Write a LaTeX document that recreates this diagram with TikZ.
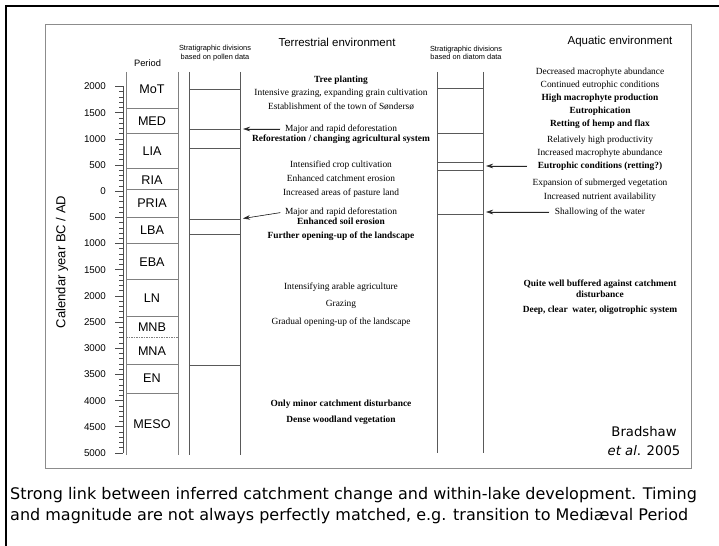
\documentclass[tikz,border=0pt]{standalone}
\usepackage{fontspec}
\setmainfont{Liberation Serif}
\newfontfamily\arialf{Liberation Sans}
\newfontfamily\capf{DejaVu Sans}
\usetikzlibrary{arrows.meta}
\begin{document}
\begin{tikzpicture}[x=1bp,y=-1bp,
  ter/.style={inner sep=0.5bp, font=\fontsize{9.4bp}{11bp}\selectfont, text height=6.5bp, text depth=2bp},
  terb/.style={ter, font=\fontsize{9.4bp}{11bp}\selectfont\bfseries},
  per/.style={inner sep=0pt, font=\arialf\fontsize{12.6bp}{14bp}\selectfont},
  ticklab/.style={inner sep=0pt, anchor=east, font=\arialf\fontsize{9.8bp}{11bp}\selectfont},
  smallhdr/.style={inner sep=0pt, align=center, font=\arialf\fontsize{7.4bp}{8.2bp}\selectfont},
  bighdr/.style={inner sep=0pt, font=\arialf\fontsize{11.5bp}{13bp}\selectfont},
  capt/.style={inner sep=0pt, anchor=base west, font=\capf\fontsize{16bp}{19bp}\selectfont},
  colline/.style={draw=black!65, line width=0.8bp},
  perline/.style={draw=black!50, line width=0.9bp},
  axisline/.style={draw=black!70, line width=0.7bp},
  arr/.style={-{Stealth[length=7bp,width=4.5bp]}, line width=0.6bp, draw=black!85, fill=black!85}
]
\useasboundingbox (0,0) rectangle (719,546);
\fill[white] (0,0) rectangle (719,546);
% outer frame
\draw[line width=2bp, line cap=rect] (719,6) -- (6,6) -- (6,546);
% inner figure box
\draw[draw=black!45, line width=1bp] (45,25) rectangle (691,468);

% headers
\node[bighdr] (hterr) at (337,42) {Terrestrial environment};
\node[bighdr] (haq) at (620,42) {Aquatic environment};
\node[smallhdr] (hpol) at (215,53) {Stratigraphic divisions\\ based on pollen data};
\node[smallhdr] (hdia) at (466,53) {Stratigraphic divisions\\ based on diatom data};
\node[inner sep=0pt, font=\arialf\fontsize{9.3bp}{11bp}\selectfont] (hper) at (147.5,63) {Period};

% y axis
\node[rotate=90, inner sep=0pt, font=\arialf\fontsize{13bp}{15bp}\selectfont] (ylab) at (62,262) {Calendar year BC / AD};
\draw[axisline] (123,86.5) -- (123,453);
\foreach \i in {0,...,70} {
  \pgfmathsetmacro\yy{86.5+\i*5.236}
  \draw[axisline] (119,\yy) -- (123,\yy);
}
\foreach \i/\lab in {0/2000,1/1500,2/1000,3/500,4/0,5/500,6/1000,7/1500,8/2000,9/2500,10/3000,11/3500,12/4000,13/4500,14/5000} {
  \pgfmathsetmacro\yy{86.5+\i*26.18}
  \draw[axisline] (115,\yy) -- (123,\yy);
  \node[ticklab] (tick\i) at (106,\yy) {\lab};
}

% period column
\draw[perline] (126,72) -- (126,455);
\draw[perline] (178,72) -- (178,455);
\foreach \yy in {108,133,168,189,217,243,279,316,364,393} {
  \draw[perline] (126,\yy) -- (178,\yy);
}
\draw[perline, dash pattern=on 1.5bp off 1bp] (126,337) -- (178,337);
\node[per] (pMoT) at (152,89) {MoT};
\node[per] (pMED) at (152,121.5) {MED};
\node[per] (pLIA) at (152,151) {LIA};
\node[per] (pRIA) at (152,180) {RIA};
\node[per] (pPRIA) at (152,203) {PRIA};
\node[per] (pLBA) at (152,230) {LBA};
\node[per] (pEBA) at (152,262) {EBA};
\node[per] (pLN) at (152,298) {LN};
\node[per] (pMNB) at (152,327) {MNB};
\node[per] (pMNA) at (152,351) {MNA};
\node[per] (pEN) at (152,378) {EN};
\node[per] (pMESO) at (152,424) {MESO};

% pollen column
\draw[colline] (189,72) -- (189,455);
\draw[colline] (240,72) -- (240,455);
\foreach \yy in {89,129,148,219,234,365} {
  \draw[colline] (189,\yy) -- (240,\yy);
}
\coordinate (pa1) at (243,129);
\coordinate (pa2) at (243,218.5);

% diatom column
\draw[colline] (437,72) -- (437,453);
\draw[colline] (483,72) -- (483,453);
\foreach \yy in {88,133,162,170,214} {
  \draw[colline] (437,\yy) -- (483,\yy);
}
\coordinate (da1) at (486,166);
\coordinate (da2) at (486,212);

% terrestrial texts
\node[terb] (t1) at (341,80) {Tree planting};
\node[ter] (t2) at (341,93) {Intensive grazing, expanding grain cultivation};
\node[ter] (t3) at (341,107) {Establishment of the town of Søndersø};
\node[ter] (t4) at (341,129) {Major and rapid deforestation};
\node[terb] (t5) at (341,139) {Reforestation / changing agricultural system};
\node[ter] (t6) at (341,165) {Intensified crop cultivation};
\node[ter] (t7) at (341,179) {Enhanced catchment erosion};
\node[ter] (t8) at (341,193) {Increased areas of pasture land};
\node[ter] (t9) at (341,212) {Major and rapid deforestation};
\node[terb] (t10) at (341,222) {Enhanced soil erosion};
\node[terb] (t11) at (341,236) {Further opening-up of the landscape};
\node[ter] (t12) at (341,287) {Intensifying arable agriculture};
\node[ter] (t13) at (341,304) {Grazing};
\node[ter] (t14) at (341,322) {Gradual opening-up of the landscape};
\node[terb] (t15) at (341,404) {Only minor catchment disturbance};
\node[terb] (t16) at (341,420) {Dense woodland vegetation};

% aquatic texts
\node[ter] (a1) at (600,72) {Decreased macrophyte abundance};
\node[ter] (a2) at (600,85) {Continued eutrophic conditions};
\node[terb] (a3) at (600,98) {High macrophyte production};
\node[terb] (a4) at (600,111) {Eutrophication};
\node[terb] (a5) at (600,124) {Retting of hemp and flax};
\node[ter] (a6) at (600,140) {Relatively high productivity};
\node[ter] (a7) at (600,153) {Increased macrophyte abundance};
\node[terb] (a8) at (600,166) {Eutrophic conditions (retting?)};
\node[ter] (a9) at (600,183) {Expansion of submerged vegetation};
\node[ter] (a10) at (600,197) {Increased nutrient availability};
\node[ter] (a11) at (600,212) {Shallowing of the water};
\node[terb, align=center, text height=, text depth=, font=\fontsize{9.4bp}{11bp}\selectfont\bfseries] (a12) at (600,289) {Quite well buffered against catchment\\disturbance};
\node[terb] (a13) at (600,310) {Deep, clear~~water, oligotrophic system};

% arrows
\draw[arr, shorten <=4bp] (t4.west) -- (pa1);
\draw[arr, shorten <=4bp] (t9.west) -- (pa2);
\draw[arr, shorten <=10bp] (a8.west) -- (da1);
\draw[arr, shorten <=5bp] (a11.west) -- (da2);

% reference
\node[inner sep=0pt, align=center, font=\capf\fontsize{13.2bp}{19bp}\selectfont] (ref) at (644,441) {Bradshaw\\\textit{et al}. 2005};

% caption
\node[capt] (c1) at (10,499) {Strong link between inferred catchment change and within-lake development. Timing};
\node[capt] (c2) at (10,520) {and magnitude are not always perfectly matched, e.g. transition to Mediæval Period};
\end{tikzpicture}
\end{document}
